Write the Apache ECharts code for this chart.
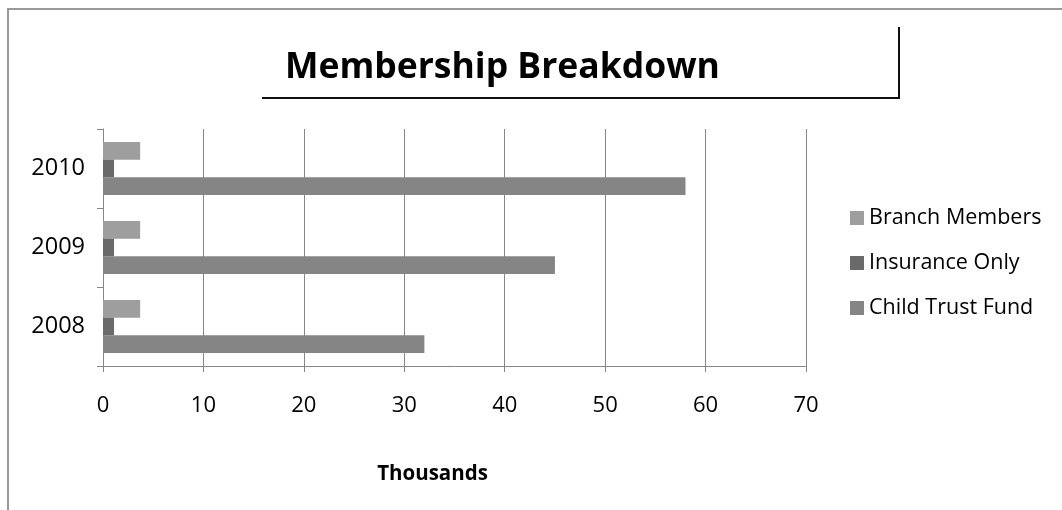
<!DOCTYPE html>
<html>
<head>
<meta charset="utf-8">
<script src="https://cdn.jsdelivr.net/npm/echarts@6/dist/echarts.min.js"></script>
<style>
  html, body { margin: 0; padding: 0; background: #ffffff; }
  #chart { width: 1062px; height: 510px; }
</style>
</head>
<body>
<div id="chart"></div>
<script>
// Membership figures, in thousands
const years = ['2008', '2009', '2010'];
const branchMembers = [3.7, 3.7, 3.7];
const insuranceOnly = [1.1, 1.1, 1.1];
const childTrustFund = [32, 45, 58];
const seriesNames = ['Branch Members', 'Insurance Only', 'Child Trust Fund'];
const xTicks = { min: 0, max: 70, interval: 10 };

const FONT = '"Open Sans", "Noto Sans", sans-serif';
const AXIS_GREY = '#868686';

const chart = echarts.init(document.getElementById('chart'), null, { renderer: 'canvas' });

chart.setOption({
  backgroundColor: '#ffffff',
  animation: false,
  title: {
    text: 'Membership Breakdown',
    left: 280,
    top: 45,
    textStyle: { fontFamily: FONT, fontWeight: 'bold', fontSize: 35.5, color: '#000000' }
  },
  graphic: [
    // outer frame (top and left edges)
    {
      type: 'polyline',
      shape: { points: [[8, 510], [8, 9], [1062, 9]] },
      style: { stroke: '#999999', lineWidth: 2, fill: null }
    },
    // title box edge (bottom and right)
    {
      type: 'polyline',
      shape: { points: [[262, 98], [899, 98], [899, 27]] },
      style: { stroke: '#111111', lineWidth: 2, fill: null }
    }
  ],
  legend: {
    orient: 'vertical',
    left: 845,
    top: 202,
    itemWidth: 14,
    itemHeight: 14,
    itemGap: 23,
    icon: 'rect',
    data: seriesNames,
    textStyle: { fontFamily: FONT, fontSize: 21.5, color: '#000000' }
  },
  grid: { left: 103, right: 256, top: 129, bottom: 144, containLabel: false },
  xAxis: {
    type: 'value',
    min: xTicks.min,
    max: xTicks.max,
    interval: xTicks.interval,
    name: 'Thousands',
    nameLocation: 'middle',
    nameGap: 98,
    nameTextStyle: { fontFamily: FONT, fontWeight: 'bold', fontSize: 20.5, color: '#000000', padding: [0, 44, 0, 0] },
    axisLine: { show: true, lineStyle: { color: AXIS_GREY, width: 1 } },
    axisTick: { show: true, length: 6, lineStyle: { color: AXIS_GREY } },
    axisLabel: { fontFamily: FONT, fontSize: 22, color: '#000000', margin: 29 },
    splitLine: { show: true, lineStyle: { color: AXIS_GREY, width: 1 } }
  },
  yAxis: {
    type: 'category',
    data: years,
    axisLine: { show: true, lineStyle: { color: AXIS_GREY, width: 1 } },
    axisTick: { show: true, length: 6, lineStyle: { color: AXIS_GREY } },
    axisLabel: { fontFamily: FONT, fontSize: 23.5, color: '#000000', margin: 18 },
    splitLine: { show: false }
  },
  series: [
    {
      name: seriesNames[0], type: 'bar', data: branchMembers,
      itemStyle: { color: '#9e9e9e' }, barGap: '0%', barCategoryGap: '33%'
    },
    {
      name: seriesNames[1], type: 'bar', data: insuranceOnly,
      itemStyle: { color: '#6a6a6a' }, barGap: '0%', barCategoryGap: '33%'
    },
    {
      name: seriesNames[2], type: 'bar', data: childTrustFund,
      itemStyle: { color: '#858585' }, barGap: '0%', barCategoryGap: '33%'
    }
  ]
});
</script>
</body>
</html>
